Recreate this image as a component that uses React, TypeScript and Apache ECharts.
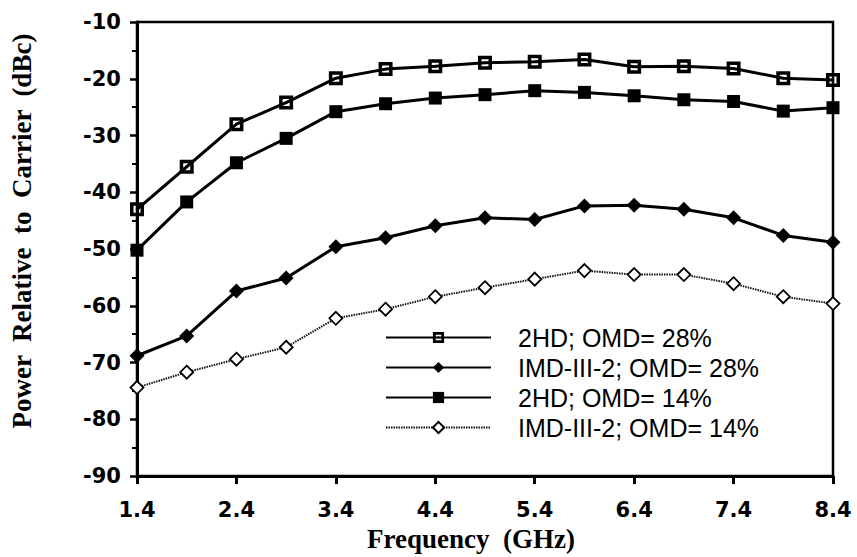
import React, { useEffect, useRef } from "react";
import * as echarts from "echarts";

const freqs = [1.4, 1.9, 2.4, 2.9, 3.4, 3.9, 4.4, 4.9, 5.4, 5.9, 6.4, 6.9, 7.4, 7.9, 8.4];
const hd28 = [-43, -35.5, -28, -24.2, -19.9, -18.3, -17.8, -17.2, -17.0, -16.6, -17.9, -17.8, -18.2, -19.9, -20.2];
const imd28 = [-68.8, -65.3, -57.4, -55.1, -49.6, -48.0, -45.9, -44.5, -44.8, -42.4, -42.3, -43.0, -44.5, -47.6, -48.8];
const hd14 = [-50.2, -41.7, -34.8, -30.5, -25.8, -24.4, -23.4, -22.8, -22.1, -22.4, -23.0, -23.7, -24.0, -25.7, -25.1];
const imd14 = [-74.4, -71.7, -69.4, -67.3, -62.2, -60.6, -58.4, -56.8, -55.3, -53.8, -54.5, -54.5, -56.1, -58.4, -59.6];
const seriesNames = ["2HD; OMD= 28%", "IMD-III-2; OMD= 28%", "2HD; OMD= 14%", "IMD-III-2; OMD= 14%"];

const pair = (ys: number[]) => freqs.map((f, i) => [f, ys[i]]);

const openSquareDot = "path://M0,0H12V12H0Z M3,3V9H9V3Z M5,5H7V7H5Z";

export default function App() {
  const ref = useRef<HTMLDivElement>(null);
  useEffect(() => {
    if (!ref.current) return;
    const chart = echarts.init(ref.current, null, { renderer: "svg" });
    const tickFont = { fontFamily: "DejaVu Sans", fontWeight: "bold", fontSize: 21, color: "#000" };
    chart.setOption({
      animation: false,
      backgroundColor: "#fff",
      grid: { left: 137, right: 24, top: 22, bottom: 75, show: true, borderColor: "#000", borderWidth: 2.5 },
      legend: {
        orient: "vertical",
        left: 380,
        top: 320,
        itemWidth: 105,
        itemHeight: 14,
        itemGap: 5,
        data: seriesNames,
        textStyle: { fontFamily: "Liberation Sans", fontSize: 25, color: "#000", padding: [0, 0, 0, 22] },
      },
      xAxis: {
        type: "value",
        min: 1.4,
        max: 8.4,
        interval: 1,
        name: "Frequency  (GHz)",
        nameLocation: "middle",
        nameGap: 46,
        nameTextStyle: {
          fontFamily: "Liberation Serif",
          fontWeight: "bold",
          fontSize: 27,
          color: "#000",
          padding: [0, 28, 0, 0],
        },
        axisLine: { lineStyle: { color: "#000", width: 3 } },
        axisTick: { show: true, length: 8, inside: false, lineStyle: { color: "#000", width: 3 } },
        axisLabel: { ...tickFont, margin: 23, formatter: (v: number) => v.toFixed(1) },
        splitLine: { show: false },
      },
      yAxis: {
        type: "value",
        min: -90,
        max: -10,
        interval: 10,
        name: "Power  Relative  to  Carrier  (dBc)",
        nameLocation: "middle",
        nameGap: 102,
        nameTextStyle: {
          fontFamily: "Liberation Serif",
          fontWeight: "bold",
          fontSize: 27,
          color: "#000",
          padding: [0, 0, 0, 36],
        },
        axisLine: { lineStyle: { color: "#000", width: 3 } },
        axisTick: { show: true, length: 7, lineStyle: { color: "#000", width: 2.5 } },
        minorTick: { show: true, splitNumber: 2, length: 5, lineStyle: { color: "#000", width: 2 } },
        axisLabel: { ...tickFont, margin: 16 },
        splitLine: { show: false },
      },
      series: [
        {
          name: seriesNames[0],
          type: "line",
          data: pair(hd28),
          symbol: openSquareDot,
          symbolSize: 14,
          clip: false,
          itemStyle: { color: "#000" },
          lineStyle: { color: "#000", width: 3 },
          z: 4,
        },
        {
          name: seriesNames[1],
          type: "line",
          data: pair(imd28),
          symbol: "diamond",
          symbolSize: 15,
          clip: false,
          itemStyle: { color: "#000" },
          lineStyle: { color: "#000", width: 3 },
          z: 3,
        },
        {
          name: seriesNames[2],
          type: "line",
          data: pair(hd14),
          symbol: "rect",
          symbolSize: 13,
          clip: false,
          itemStyle: { color: "#000" },
          lineStyle: { color: "#000", width: 3 },
          z: 3,
        },
        {
          name: seriesNames[3],
          type: "line",
          data: pair(imd14),
          symbol: "diamond",
          symbolSize: 13,
          clip: false,
          itemStyle: { color: "#fff", borderColor: "#000", borderWidth: 1.8 },
          lineStyle: { color: "#111", width: 2, type: [1.5, 1] },
          z: 2,
        },
      ],
    });
    return () => chart.dispose();
  }, []);
  return <div ref={ref} style={{ width: 857, height: 557, position: "absolute", left: 0, top: 0, background: "#fff" }} />;
}
